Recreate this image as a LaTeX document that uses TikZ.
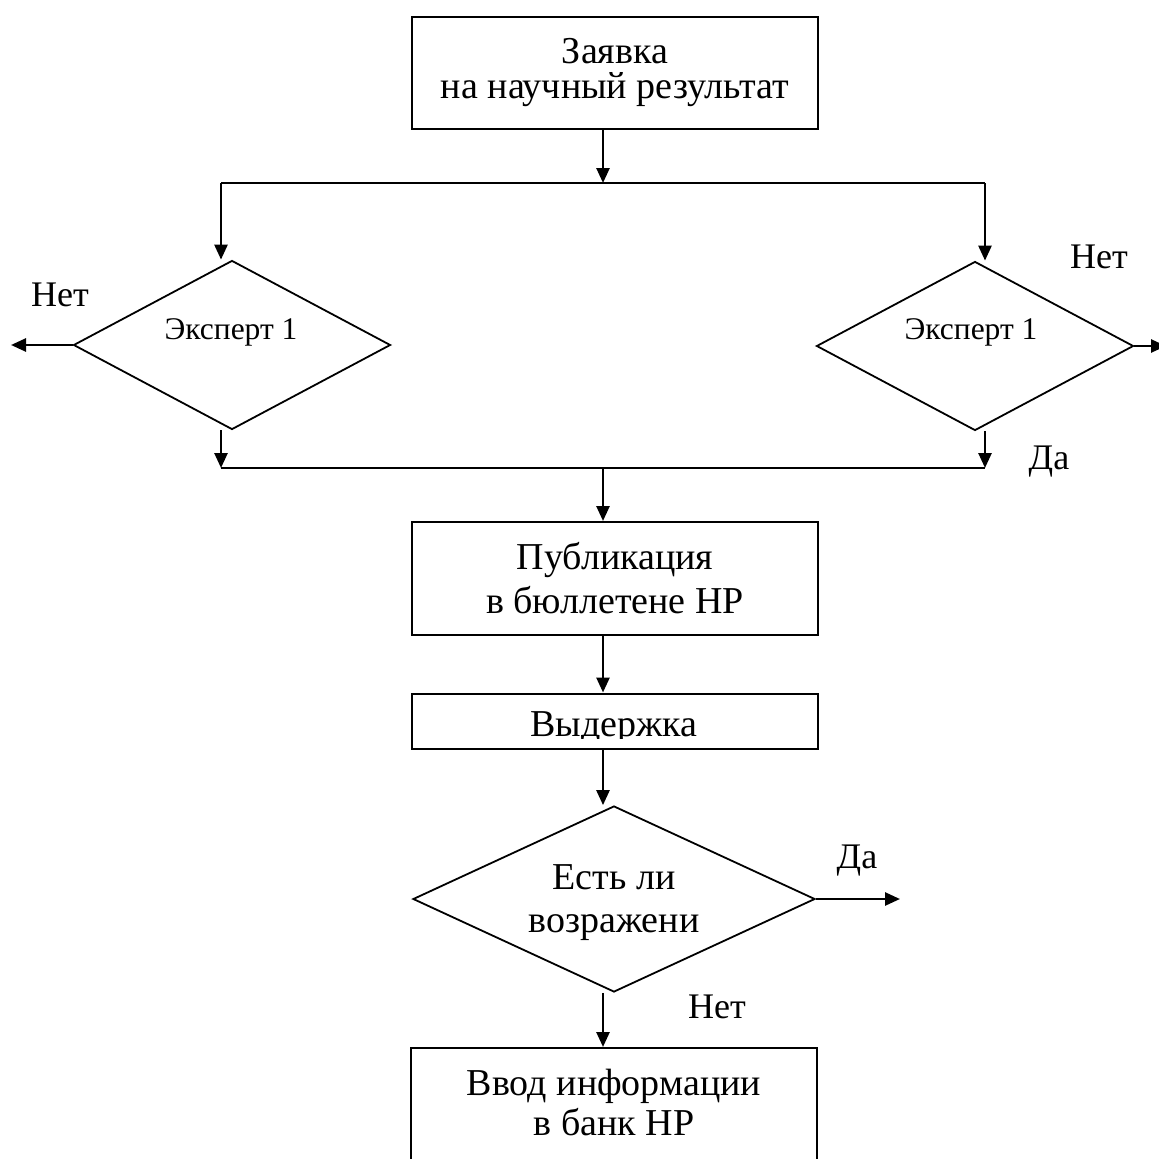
\documentclass[tikz,border=0pt]{standalone}
\usepackage{fontspec}
\setmainfont{Liberation Serif}
\usetikzlibrary{arrows.meta,shapes.geometric}
\begin{document}
\begin{tikzpicture}[x=1pt,y=-1pt,
 box/.style={draw,line width=2pt,minimum width=406pt,align=center,inner sep=0pt},
 dec/.style={draw,diamond,aspect=2,inner sep=0pt,line width=1.8pt},
 arr/.style={line width=2.6pt,-{Triangle[length=15pt,width=13pt]}},
 ln/.style={line width=2.6pt},
 lab/.style={font=\fontsize{36}{40}\selectfont,anchor=base,inner sep=0pt},
 small/.style={font=\fontsize{31.5}{36}\selectfont,anchor=base,inner sep=0pt}]
\useasboundingbox (0,0) rectangle (1159,1159);

% boxes
\node[box,minimum height=112pt,font=\fontsize{38}{35}\selectfont] (top) at (615,73) {Заявка\\ на научный результат};
\node[box,minimum height=113pt,font=\fontsize{38}{44}\selectfont] (pub) at (615,578.5) {Публикация\\в бюллетене НР};
\node[box,minimum height=55pt] (hold) at (615,721) {};
\begin{scope}
  \clip (412,690) rectangle (818,738);
  \node[font=\fontsize{38}{40}\selectfont,anchor=base,inner sep=0pt] (holdtxt) at (614,736) {Выдержка};
\end{scope}
\node[box,minimum height=120pt,text depth=11pt,font=\fontsize{38}{40}\selectfont] (bank) at (614,1108) {Ввод информации\\в банк НР};

% diamonds
\node[dec,minimum width=317pt,minimum height=169pt] (d1) at (232,345) {};
\node[dec,minimum width=317pt,minimum height=169pt] (d2) at (975,346) {};
\node[dec,minimum width=402pt,minimum height=186pt] (d3) at (614,899) {};
\node[small] (d1t) at (231,339) {Эксперт 1};
\node[small] (d2t) at (971,339) {Эксперт 1};
\node[align=center,inner sep=0pt,font=\fontsize{38}{43}\selectfont] (d3t) at (614,903) {Есть ли\\возражени};

% labels
\node[lab] (lno1) at (60,306) {Нет};
\node[lab] (lno2) at (1099,268) {Нет};
\node[lab] (lyes1) at (1049,469) {Да};
\node[lab] (lyes2) at (857,868) {Да};
\node[lab] (lno3) at (717,1018) {Нет};

% junctions
\coordinate (j1) at (603,183);
\coordinate (jl) at (221,183);
\coordinate (jr) at (985,183);
\coordinate (bl) at (221,468);
\coordinate (br) at (985,468);
\coordinate (j2) at (603,468);
\coordinate (nl) at (11,345);
\coordinate (nr) at (1166,346);
\coordinate (dy) at (900,899);

% connectors
\draw[arr] (top.south -| j1) -- (j1);
\draw[ln] (jl) -- (jr);
\draw[arr] (jl) -- (jl |- d1.north);
\draw[arr] (jr) -- (jr |- d2.north);
\draw[arr] (d1.west) -- (nl);
\draw[arr] (d2.east) -- (nr);
\draw[arr] (bl |- d1.south) -- (bl);
\draw[arr] (br |- d2.south) -- (br);
\draw[ln] (bl) -- (br);
\draw[arr] (j2) -- (j2 |- pub.north);
\draw[arr] (j2 |- pub.south) -- (j2 |- hold.north);
\draw[arr] (j2 |- hold.south) -- (j2 |- d3.north);
\draw[arr] (j2 |- d3.south) -- (j2 |- bank.north);
\draw[arr] (d3.east) -- (dy);
\end{tikzpicture}
\end{document}
